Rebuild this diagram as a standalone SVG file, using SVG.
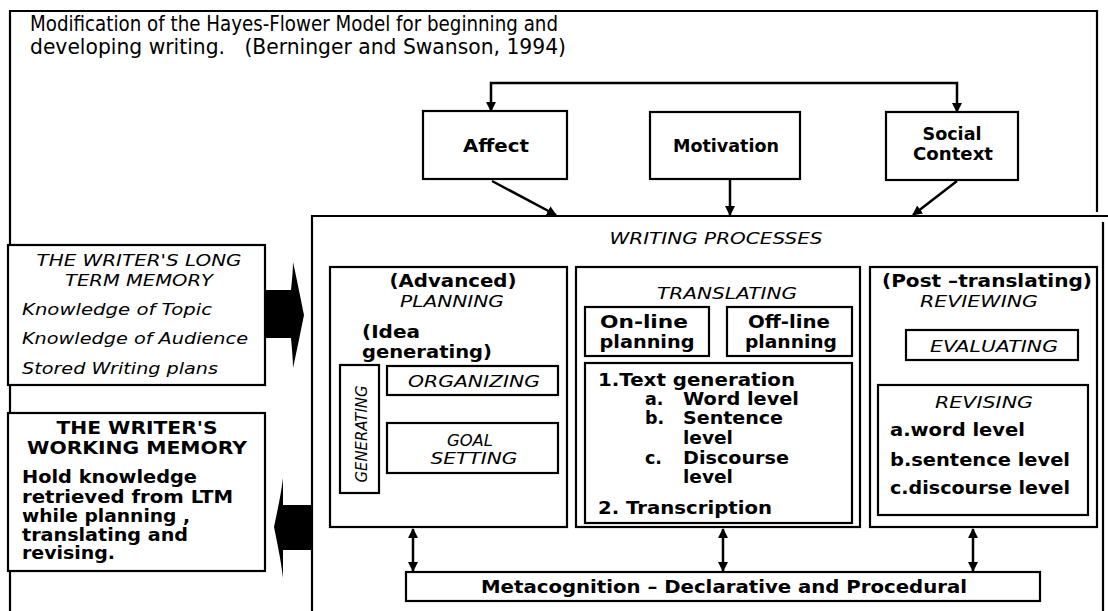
<svg xmlns="http://www.w3.org/2000/svg" width="1108" height="611" viewBox="0 0 1108 611">
  <style>
    .box { fill: #fff; stroke: #000; stroke-width: 2.2; }
    .line { fill: none; stroke: #000; stroke-width: 2.2; }
    .conn { fill: none; stroke: #000; stroke-width: 2.5; }
    text { font-family: "DejaVu Sans", Verdana, sans-serif; fill: #000; }
    .b { font-weight: bold; font-size: 17.5px; }
    .i { font-style: italic; font-size: 15px; }
    .title { font-size: 21px; }
    .mid { text-anchor: middle; }
  </style>
  <defs>
    <marker id="head" viewBox="0 0 10 10" refX="9" refY="5" markerWidth="4" markerHeight="4" orient="auto-start-reverse" markerUnits="strokeWidth">
      <path d="M0,0 L10,5 L0,10 z" fill="#000"/>
    </marker>
  </defs>

  <rect width="1108" height="611" fill="#fff"/>

  <!-- outer frame -->
  <g id="frame">
    <path class="line" d="M10,611 V11 H1097 V212"/>
    <path class="line" d="M312,611 V216 H1108"/>
    <path class="line" d="M1103,222 V611"/>
  </g>

  <!-- title -->
  <g id="title">
    <text class="title" x="30" y="31" textLength="528" lengthAdjust="spacingAndGlyphs">Modification of the Hayes-Flower Model for beginning and</text>
    <text class="title" x="30" y="54" textLength="536" lengthAdjust="spacingAndGlyphs" xml:space="preserve">developing writing.   (Berninger and Swanson, 1994)</text>
  </g>

  <!-- influences -->
  <g id="affect">
    <rect class="box" x="423" y="111" width="144" height="68"/>
    <text class="b mid" x="496" y="152" textLength="66" lengthAdjust="spacingAndGlyphs">Affect</text>
  </g>
  <g id="motivation">
    <rect class="box" x="650" y="112" width="150" height="67"/>
    <text class="b mid" x="726" y="152" textLength="106" lengthAdjust="spacingAndGlyphs">Motivation</text>
  </g>
  <g id="social-context">
    <rect class="box" x="886" y="112" width="132" height="68"/>
    <text class="b mid" x="952" y="140" textLength="59" lengthAdjust="spacingAndGlyphs">Social</text>
    <text class="b mid" x="953" y="160" textLength="80" lengthAdjust="spacingAndGlyphs">Context</text>
  </g>

  <!-- long term memory -->
  <g id="long-term-memory">
    <rect class="box" x="8" y="245" width="257" height="140"/>
    <text class="i mid" x="139" y="266" textLength="205" lengthAdjust="spacingAndGlyphs">THE WRITER'S LONG</text>
    <text class="i mid" x="139" y="286" textLength="148" lengthAdjust="spacingAndGlyphs">TERM MEMORY</text>
    <text class="i" x="22" y="315" textLength="190" lengthAdjust="spacingAndGlyphs">Knowledge of Topic</text>
    <text class="i" x="22" y="344" textLength="226" lengthAdjust="spacingAndGlyphs">Knowledge of Audience</text>
    <text class="i" x="22" y="374" textLength="196" lengthAdjust="spacingAndGlyphs">Stored Writing plans</text>
  </g>

  <!-- working memory -->
  <g id="working-memory">
    <rect class="box" x="8" y="413" width="257" height="158"/>
    <text class="b mid" x="137" y="434" textLength="161" lengthAdjust="spacingAndGlyphs">THE WRITER'S</text>
    <text class="b mid" x="137" y="454" textLength="220" lengthAdjust="spacingAndGlyphs">WORKING MEMORY</text>
    <text class="b" x="22" y="483" textLength="175" lengthAdjust="spacingAndGlyphs">Hold knowledge</text>
    <text class="b" x="22" y="503" textLength="211" lengthAdjust="spacingAndGlyphs">retrieved from LTM</text>
    <text class="b" x="22" y="522" textLength="168" lengthAdjust="spacingAndGlyphs">while planning ,</text>
    <text class="b" x="22" y="541" textLength="166" lengthAdjust="spacingAndGlyphs">translating and</text>
    <text class="b" x="22" y="559" textLength="93" lengthAdjust="spacingAndGlyphs">revising.</text>
  </g>

  <!-- writing processes -->
  <g id="writing-processes">
    <text class="i mid" x="716" y="244" textLength="213" lengthAdjust="spacingAndGlyphs">WRITING PROCESSES</text>
  </g>

  <g id="planning">
    <rect class="box" x="330" y="267" width="237" height="260"/>
    <text class="b mid" x="453" y="287" textLength="127" lengthAdjust="spacingAndGlyphs">(Advanced)</text>
    <text class="i mid" x="452" y="307" textLength="104" lengthAdjust="spacingAndGlyphs">PLANNING</text>
    <text class="b" x="362" y="338" textLength="58" lengthAdjust="spacingAndGlyphs">(Idea</text>
    <text class="b" x="362" y="358" textLength="130" lengthAdjust="spacingAndGlyphs">generating)</text>
  </g>
  <g id="generating">
    <rect class="box" x="340" y="365" width="39" height="128"/>
    <text class="i mid" transform="translate(367,434) rotate(-90)" x="0" y="0" textLength="97" lengthAdjust="spacingAndGlyphs">GENERATING</text>
  </g>
  <g id="organizing">
    <rect class="box" x="387" y="366" width="171" height="29"/>
    <text class="i mid" x="474" y="387" textLength="132" lengthAdjust="spacingAndGlyphs">ORGANIZING</text>
  </g>
  <g id="goal-setting">
    <rect class="box" x="387" y="423" width="171" height="50"/>
    <text class="i mid" x="470" y="446" textLength="46" lengthAdjust="spacingAndGlyphs">GOAL</text>
    <text class="i mid" x="474" y="464" textLength="87" lengthAdjust="spacingAndGlyphs">SETTING</text>
  </g>

  <g id="translating">
    <rect class="box" x="576" y="267" width="284" height="260"/>
    <text class="i mid" x="727" y="299" textLength="140" lengthAdjust="spacingAndGlyphs">TRANSLATING</text>
  </g>
  <g id="online-planning">
    <rect class="box" x="585" y="307" width="124" height="49"/>
    <text class="b mid" x="644" y="328" textLength="88" lengthAdjust="spacingAndGlyphs">On-line</text>
    <text class="b mid" x="647" y="348" textLength="95" lengthAdjust="spacingAndGlyphs">planning</text>
  </g>
  <g id="offline-planning">
    <rect class="box" x="727" y="307" width="125" height="49"/>
    <text class="b mid" x="789" y="328" textLength="82" lengthAdjust="spacingAndGlyphs">Off-line</text>
    <text class="b mid" x="791" y="348" textLength="92" lengthAdjust="spacingAndGlyphs">planning</text>
  </g>
  <g id="text-generation">
    <rect class="box" x="585" y="363" width="267" height="160"/>
    <text class="b" x="598" y="386" textLength="197" lengthAdjust="spacingAndGlyphs">1.Text generation</text>
    <text class="b" x="645" y="405">a.</text>
    <text class="b" x="683" y="405" textLength="116" lengthAdjust="spacingAndGlyphs">Word level</text>
    <text class="b" x="645" y="424">b.</text>
    <text class="b" x="683" y="424" textLength="100" lengthAdjust="spacingAndGlyphs">Sentence</text>
    <text class="b" x="683" y="444" textLength="50" lengthAdjust="spacingAndGlyphs">level</text>
    <text class="b" x="645" y="464">c.</text>
    <text class="b" x="683" y="464" textLength="106" lengthAdjust="spacingAndGlyphs">Discourse</text>
    <text class="b" x="683" y="483" textLength="50" lengthAdjust="spacingAndGlyphs">level</text>
    <text class="b" x="598" y="514" textLength="174" lengthAdjust="spacingAndGlyphs">2. Transcription</text>
  </g>

  <g id="reviewing">
    <rect class="box" x="870" y="267" width="227" height="260"/>
    <text class="b mid" x="987" y="287" textLength="210" lengthAdjust="spacingAndGlyphs">(Post –translating)</text>
    <text class="i mid" x="979" y="307" textLength="118" lengthAdjust="spacingAndGlyphs">REVIEWING</text>
  </g>
  <g id="evaluating">
    <rect class="box" x="906" y="330" width="172" height="30"/>
    <text class="i mid" x="994" y="352" textLength="128" lengthAdjust="spacingAndGlyphs">EVALUATING</text>
  </g>
  <g id="revising">
    <rect class="box" x="878" y="385" width="210" height="130"/>
    <text class="i mid" x="984" y="408" textLength="98" lengthAdjust="spacingAndGlyphs">REVISING</text>
    <text class="b" x="890" y="436" textLength="135" lengthAdjust="spacingAndGlyphs">a.word level</text>
    <text class="b" x="890" y="466" textLength="180" lengthAdjust="spacingAndGlyphs">b.sentence level</text>
    <text class="b" x="890" y="494" textLength="180" lengthAdjust="spacingAndGlyphs">c.discourse level</text>
  </g>

  <g id="metacognition">
    <rect class="box" x="406" y="572" width="634" height="29"/>
    <text class="b mid" x="724" y="593" textLength="486" lengthAdjust="spacingAndGlyphs">Metacognition – Declarative and Procedural</text>
  </g>

  <!-- connectors -->
  <g id="connectors">
    <path class="conn" d="M491,111 V83 H957 V112" marker-start="url(#head)" marker-end="url(#head)"/>
    <path class="conn" d="M492,181 L556,215" marker-end="url(#head)"/>
    <path class="conn" d="M730,179 V215" marker-end="url(#head)"/>
    <path class="conn" d="M957,181 L913,215" marker-end="url(#head)"/>
    <path class="conn" d="M413,529 V571" marker-start="url(#head)" marker-end="url(#head)"/>
    <path class="conn" d="M723,529 V571" marker-start="url(#head)" marker-end="url(#head)"/>
    <path class="conn" d="M973,529 V571" marker-start="url(#head)" marker-end="url(#head)"/>
    <!-- block arrow from long term memory into the writing processes -->
    <path d="M265,290 H291 C292,280 293,270 293,262 C297,280 301,300 304,315 C301,330 297,350 293,368 C293,360 292,350 291,338 H265 Z" fill="#000"/>
    <!-- block arrow from the writing processes back to working memory -->
    <path d="M312,505 H283 C283,496 283,488 283,478 C281,495 277,512 274,527 C277,542 281,560 283,578 C283,568 283,558 283,550 H312 Z" fill="#000"/>
  </g>
</svg>
